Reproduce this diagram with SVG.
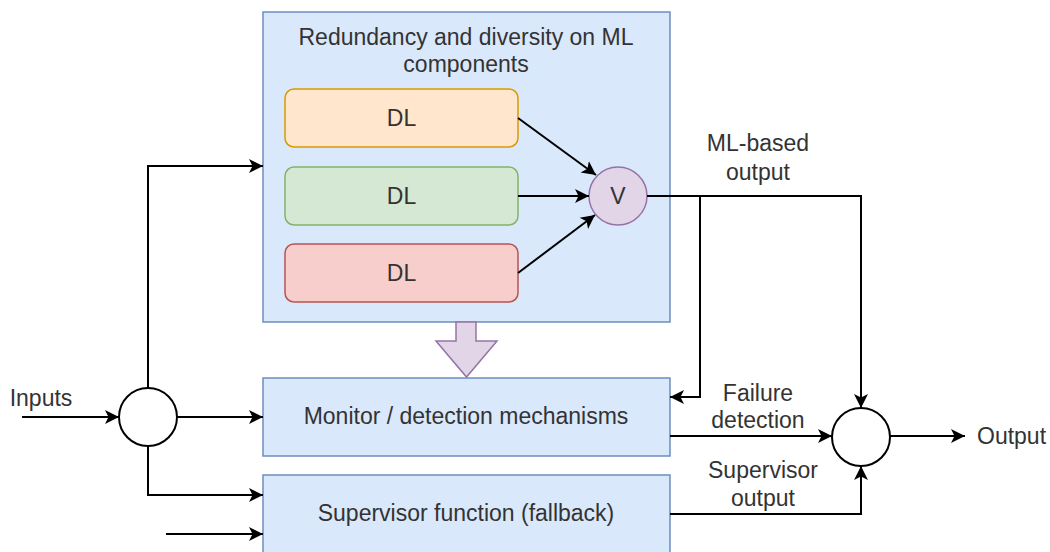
<svg xmlns="http://www.w3.org/2000/svg" width="1050" height="552" viewBox="0 0 1050 552">
<style>
text{font-family:"Liberation Sans",Arial,sans-serif;font-size:23px;fill:#333;dominant-baseline:central}
.c{text-anchor:middle}
.box{fill:#dae8fc;stroke:#6c8ebf;stroke-width:1.5}
.ln{fill:none;stroke:#000;stroke-width:2}
.arr{marker-end:url(#ah)}
.circ{fill:#fff;stroke:#000;stroke-width:2}
</style>
<defs>
<marker id="ah" markerUnits="userSpaceOnUse" markerWidth="15" markerHeight="15" viewBox="0 0 15 15" refX="14" refY="7.5" orient="auto">
<path d="M0,0.5 L14,7.5 L0,14.5 L3.5,7.5 Z" fill="#000"/>
</marker>
</defs>
<rect width="1050" height="552" fill="#fff"/>
<g id="container">
<rect class="box" x="263" y="12" width="407" height="310"/>
<text class="c" x="466" y="37">Redundancy and diversity on ML</text>
<text class="c" x="466" y="64">components</text>
</g>
<g id="dl1">
<rect x="285" y="89" width="233" height="58" rx="9" fill="#ffe6cc" stroke="#d79b00" stroke-width="1.5"/>
<text class="c" x="401.5" y="118">DL</text>
</g>
<g id="dl2">
<rect x="285" y="167" width="233" height="58" rx="9" fill="#d5e8d4" stroke="#82b366" stroke-width="1.5"/>
<text class="c" x="401.5" y="196">DL</text>
</g>
<g id="dl3">
<rect x="285" y="244" width="233" height="58" rx="9" fill="#f8cecc" stroke="#b85450" stroke-width="1.5"/>
<text class="c" x="401.5" y="273">DL</text>
</g>
<g id="voter">
<circle cx="618" cy="196" r="29" fill="#e1d5e7" stroke="#9673a6" stroke-width="1.5"/>
<text class="c" x="618" y="196">V</text>
</g>
<g id="bigarrow">
<path d="M456,322 L476,322 L476,341 L497,341 L466.5,377 L436,341 L456,341 Z" fill="#e1d5e7" stroke="#9673a6" stroke-width="1.5"/>
</g>
<g id="monitor">
<rect class="box" x="263" y="378" width="407" height="78"/>
<text class="c" x="466" y="416">Monitor / detection mechanisms</text>
</g>
<g id="supervisor">
<rect class="box" x="263" y="475" width="407" height="80"/>
<text class="c" x="466" y="513">Supervisor function (fallback)</text>
</g>
<g id="inputnode">
<circle class="circ" cx="148" cy="417" r="29"/>
</g>
<g id="outputnode">
<circle class="circ" cx="861" cy="437" r="29"/>
</g>
<g id="connectors">
<path class="ln arr" d="M518,118 L596,175"/>
<path class="ln arr" d="M518,196 L589,196"/>
<path class="ln arr" d="M518,273 L595,215"/>
<path class="ln arr" d="M647,196 L861,196 L861,408"/>
<path class="ln arr" d="M700,196 L700,397 L670,397"/>
<path class="ln arr" d="M670,436 L832,436"/>
<path class="ln arr" d="M670,514 L861,514 L861,466"/>
<path class="ln arr" d="M890,436 L965,436"/>
<path class="ln arr" d="M22,417 L119,417"/>
<path class="ln arr" d="M177,417 L263,417"/>
<path class="ln arr" d="M148,388 L148,166 L263,166"/>
<path class="ln arr" d="M148,446 L148,495 L263,495"/>
<path class="ln arr" d="M166,534 L263,534"/>
</g>
<g id="labels">
<text class="c" x="41" y="398">Inputs</text>
<text x="977" y="436">Output</text>
<text class="c" x="758" y="143">ML-based</text>
<text class="c" x="758" y="172">output</text>
<text class="c" x="758" y="393">Failure</text>
<text class="c" x="758" y="420">detection</text>
<text class="c" x="763" y="470">Supervisor</text>
<text class="c" x="763" y="498">output</text>
</g>
</svg>
